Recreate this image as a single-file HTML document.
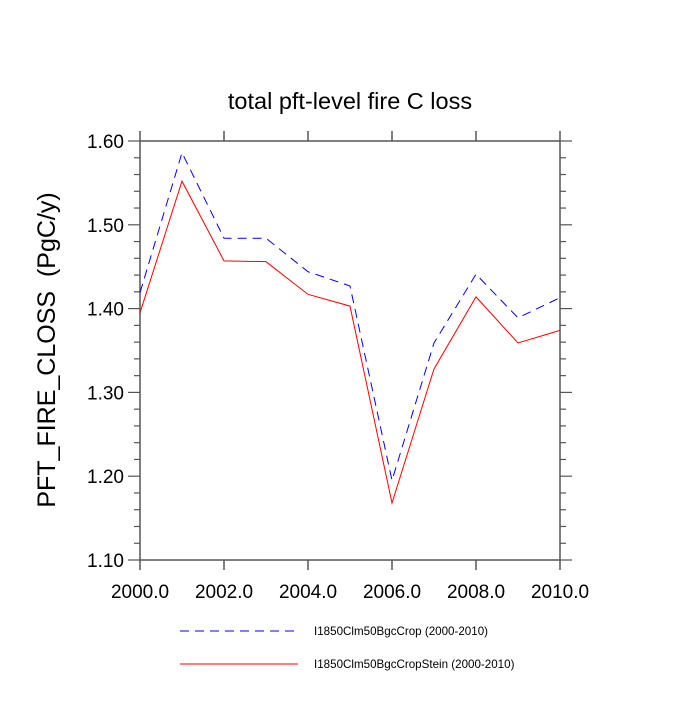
<!DOCTYPE html>
<html><head><meta charset="utf-8"><style>
body{margin:0;background:#fff;}
svg text{font-family:"Liberation Sans",Helvetica,sans-serif;fill:#000;}
</style></head><body>
<svg id="chart" width="700" height="700" viewBox="0 0 700 700" xmlns="http://www.w3.org/2000/svg">
<text x="350" y="109" font-size="23.5" text-anchor="middle">total pft-level fire C loss</text>
<text transform="translate(55,350) rotate(-90)" font-size="25" text-anchor="middle">PFT_FIRE_CLOSS&#160;&#160;(PgC/y)</text>
<g id="axes"></g>
<g id="series"></g>
<g>
<line x1="180" y1="631" x2="298" y2="631" stroke="#0000ff" stroke-width="1" stroke-dasharray="9,6"/>
<text x="314" y="635" font-size="11.6">I1850Clm50BgcCrop (2000-2010)</text>
<line x1="180" y1="664" x2="298" y2="664" stroke="#ff0000" stroke-width="1"/>
<text x="314" y="668" font-size="11.6">I1850Clm50BgcCropStein (2000-2010)</text>
</g>
</svg>
<script>
const years = [2000,2001,2002,2003,2004,2005,2006,2007,2008,2009,2010];
const cropValues = [1.419,1.586,1.484,1.484,1.444,1.427,1.195,1.359,1.441,1.389,1.413];
const steinValues = [1.395,1.552,1.457,1.456,1.417,1.403,1.168,1.328,1.414,1.359,1.374];
const xTicks = [2000,2002,2004,2006,2008,2010];
const yTicks = [1.10,1.20,1.30,1.40,1.50,1.60];

const X0=140,X1=560,Y0=560,Y1=141;
const xMin=2000,xMax=2010,yMin=1.10,yMax=1.60;
const xs=v=>X0+(v-xMin)/(xMax-xMin)*(X1-X0);
const ys=v=>Y0-(v-yMin)/(yMax-yMin)*(Y0-Y1);
const NS="http://www.w3.org/2000/svg";
const axes=document.getElementById('axes');
function mk(tag,attrs,parent){const e=document.createElementNS(NS,tag);for(const k in attrs)e.setAttribute(k,attrs[k]);parent.appendChild(e);return e;}
const frame=mk('rect',{x:X0,y:Y1,width:X1-X0,height:Y0-Y1,fill:'none',stroke:'#555','stroke-width':1.5},axes);


xTicks.forEach(t=>{
  const x=xs(t);
  mk('line',{x1:x,y1:Y0,x2:x,y2:Y0+10,stroke:'#555','stroke-width':1.5},axes);
  mk('line',{x1:x,y1:Y1,x2:x,y2:Y1-10,stroke:'#555','stroke-width':1.5},axes);
  const tx=mk('text',{x:x,y:Y0+38,'font-size':19,'text-anchor':'middle'},axes);
  tx.textContent=t.toFixed(1);
  
  
});
for(let i=0;i<=25;i++){
  const v=yMin+i*0.02, y=ys(v), major=(i%5===0), len=major?12:6;
  mk('line',{x1:X0-len,y1:y,x2:X0,y2:y,stroke:'#555','stroke-width':1.2},axes);
  mk('line',{x1:X1,y1:y,x2:X1+len,y2:y,stroke:'#555','stroke-width':1.2},axes);
}
yTicks.forEach(t=>{
  const tx=mk('text',{x:X0-16,y:ys(t)+7,'font-size':19,'text-anchor':'end'},axes);
  tx.textContent=t.toFixed(2);
  
  
});
const series=document.getElementById('series');
const pts=vals=>years.map((yr,i)=>xs(yr)+','+ys(vals[i])).join(' ');
const l1=mk('polyline',{points:pts(cropValues),fill:'none',stroke:'#0000ff','stroke-width':1,'stroke-dasharray':'9,6'},series);


const l2=mk('polyline',{points:pts(steinValues),fill:'none',stroke:'#ff0000','stroke-width':1},series);


</script>
</body></html>
